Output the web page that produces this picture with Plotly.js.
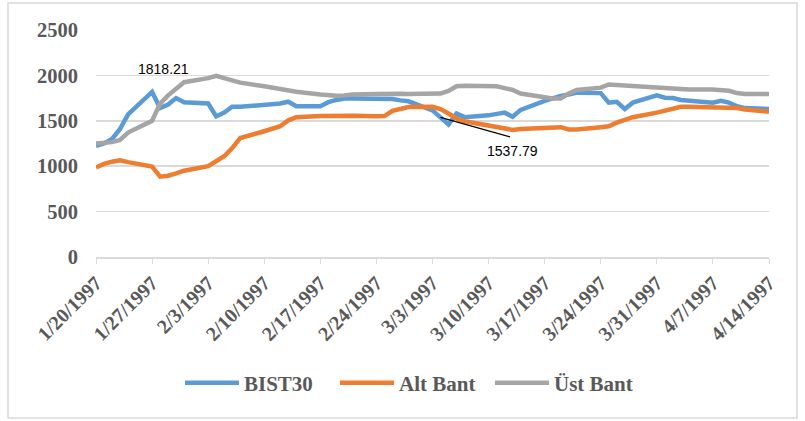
<!DOCTYPE html>
<html>
<head>
<meta charset="utf-8">
<script src="https://cdn.plot.ly/plotly-3.0.1.min.js"></script>
<style>
  html, body { margin: 0; padding: 0; background: #ffffff; }
  #chart { width: 805px; height: 421px; }
</style>
</head>
<body>
<div id="chart"></div>
<script>
const dates = [
  '1997-01-20','1997-01-21','1997-01-22','1997-01-23','1997-01-24',
  '1997-01-27','1997-01-28','1997-01-29','1997-01-30','1997-01-31',
  '1997-02-03','1997-02-04','1997-02-05','1997-02-06','1997-02-07',
  '1997-02-10','1997-02-11','1997-02-12','1997-02-13','1997-02-14',
  '1997-02-17','1997-02-18','1997-02-19','1997-02-20','1997-02-21',
  '1997-02-24','1997-02-25','1997-02-26','1997-02-27','1997-02-28',
  '1997-03-03','1997-03-04','1997-03-05','1997-03-06','1997-03-07',
  '1997-03-10','1997-03-11','1997-03-12','1997-03-13','1997-03-14',
  '1997-03-17','1997-03-18','1997-03-19','1997-03-20','1997-03-21',
  '1997-03-24','1997-03-25','1997-03-26','1997-03-27','1997-03-28',
  '1997-03-31','1997-04-01','1997-04-02','1997-04-03','1997-04-04',
  '1997-04-07','1997-04-08','1997-04-09','1997-04-10','1997-04-11',
  '1997-04-14'
];

const bist30 = [
  1224, 1250, 1300, 1410, 1570,
  1818.21, 1640, 1680, 1750, 1705,
  1690, 1548, 1590, 1655, 1655,
  1670, 1680, 1690, 1710, 1660,
  1660, 1705, 1730, 1745, 1745,
  1745, 1750, 1740, 1725, 1715,
  1615, 1537.79, 1460, 1580, 1540,
  1560, 1575, 1590, 1545, 1620,
  1720, 1750, 1775, 1790, 1810,
  1805, 1700, 1710, 1630, 1700,
  1780, 1755, 1750, 1730, 1725,
  1700, 1720, 1700, 1660, 1640,
  1630
];

const altBant = [
  985, 1025, 1050, 1065, 1045,
  995, 885, 895, 920, 950,
  1000, 1050, 1110, 1200, 1310,
  1385, 1412, 1440, 1505, 1540,
  1552, 1555, 1557, 1557, 1555,
  1550, 1552, 1610, 1635, 1652,
  1655, 1630, 1580, 1525, 1495,
  1450, 1430, 1415, 1400, 1410,
  1420, 1425, 1430, 1405, 1405,
  1430, 1440, 1480, 1510, 1540,
  1590, 1610, 1640, 1655, 1655,
  1650, 1650, 1645, 1640, 1625,
  1600
];

const ustBant = [
  1250, 1255, 1265, 1290, 1370,
  1500, 1690, 1780, 1860, 1925,
  1970, 1995, 1970, 1945, 1920,
  1880, 1865, 1850, 1825, 1820,
  1790, 1780, 1775, 1780, 1790,
  1795, 1800, 1800, 1798, 1795,
  1795, 1800, 1830, 1880, 1885,
  1885, 1880, 1860, 1840, 1800,
  1755, 1745, 1745, 1800, 1840,
  1865, 1900, 1895, 1890, 1885,
  1865, 1860, 1855, 1850, 1845,
  1845, 1840, 1830, 1805, 1795,
  1795
];

const seriesNames = ['BIST30', 'Alt Bant', 'Üst Bant'];
const tickDates = ['1997-01-20','1997-01-27','1997-02-03','1997-02-10','1997-02-17','1997-02-24',
  '1997-03-03','1997-03-10','1997-03-17','1997-03-24','1997-03-31','1997-04-07','1997-04-14'];
const yTicks = [0, 500, 1000, 1500, 2000, 2500];

const labelIdx1 = 5;   // 1/27/1997 peak
const labelIdx2 = 31;  // 3/4/1997

const colors = ['#5B9BD5', '#ED7D31', '#A5A5A5'];
const series = [bist30, altBant, ustBant];

const traces = series.map((s, i) => ({
  x: dates, y: s, name: seriesNames[i], type: 'scatter', mode: 'lines',
  line: { color: colors[i], width: 4.5, shape: 'linear' },
  hoverinfo: 'skip'
}));

const serif = 'Liberation Serif, Times New Roman, serif';

const layout = {
  width: 805, height: 421,
  margin: { l: 96, r: 36, t: 30, b: 164 },
  paper_bgcolor: '#ffffff', plot_bgcolor: '#ffffff',
  showlegend: true,
  legend: {
    orientation: 'h', x: (180 - 96) / 673, xanchor: 'left', y: -0.555, yanchor: 'middle',
    font: { family: serif, size: 21, color: '#595959', weight: 'bold' },
    itemwidth: 54, entrywidth: 86, entrywidthmode: 'pixels',
    tracegroupgap: 0, bgcolor: 'rgba(0,0,0,0)'
  },
  xaxis: {
    type: 'date',
    range: ['1997-01-20', '1997-04-14'],
    tickmode: 'array', tickvals: tickDates,
    ticktext: tickDates.map(d => { const p = d.split('-'); return (+p[1]) + '/' + (+p[2]) + '/' + p[0]; }),
    tickangle: -45,
    tickfont: { family: serif, size: 20, color: '#595959', weight: 'bold' },
    showgrid: false, zeroline: false,
    showline: true, linecolor: '#D9D9D9', linewidth: 1.5,
    ticks: 'outside', ticklen: 5, tickcolor: '#D9D9D9', tickwidth: 1,
    fixedrange: true
  },
  yaxis: {
    range: [0, 2500], tickmode: 'array', tickvals: yTicks,
    tickfont: { family: serif, size: 20.5, color: '#595959', weight: 'bold' },
    showgrid: true, gridcolor: '#D9D9D9', gridwidth: 1.5,
    zeroline: false, showline: false, ticks: '',
    ticklabelstandoff: 17,
    fixedrange: true
  },
  shapes: [{
    type: 'rect', xref: 'paper', yref: 'paper', layer: 'below',
    x0: (8 - 96) / 673, x1: (797 - 96) / 673,
    y0: (257 - 418) / 227, y1: (257 - 3) / 227,
    line: { color: '#D9D9D9', width: 1.5 }, fillcolor: 'rgba(0,0,0,0)'
  }],
  annotations: [
    {
      x: dates[labelIdx1], y: bist30[labelIdx1], xref: 'x', yref: 'y',
      text: String(bist30[labelIdx1]), showarrow: false,
      xshift: 11, yshift: 23,
      font: { family: 'Liberation Sans, Arial, sans-serif', size: 14, color: '#000000' }
    },
    {
      x: dates[labelIdx2], y: bist30[labelIdx2], xref: 'x', yref: 'y',
      text: ' ', showarrow: true, arrowhead: 0, arrowwidth: 1.2, arrowcolor: '#000000',
      ax: 71, ay: 20, standoff: 0, font: { size: 1 }
    },
    {
      x: dates[labelIdx2], y: bist30[labelIdx2], xref: 'x', yref: 'y',
      text: String(bist30[labelIdx2]), showarrow: false,
      xshift: 72, yshift: -34,
      font: { family: 'Liberation Sans, Arial, sans-serif', size: 14, color: '#000000' }
    }
  ]
};

Plotly.newPlot('chart', traces, layout, { displayModeBar: false, staticPlot: true });
</script>
</body>
</html>
